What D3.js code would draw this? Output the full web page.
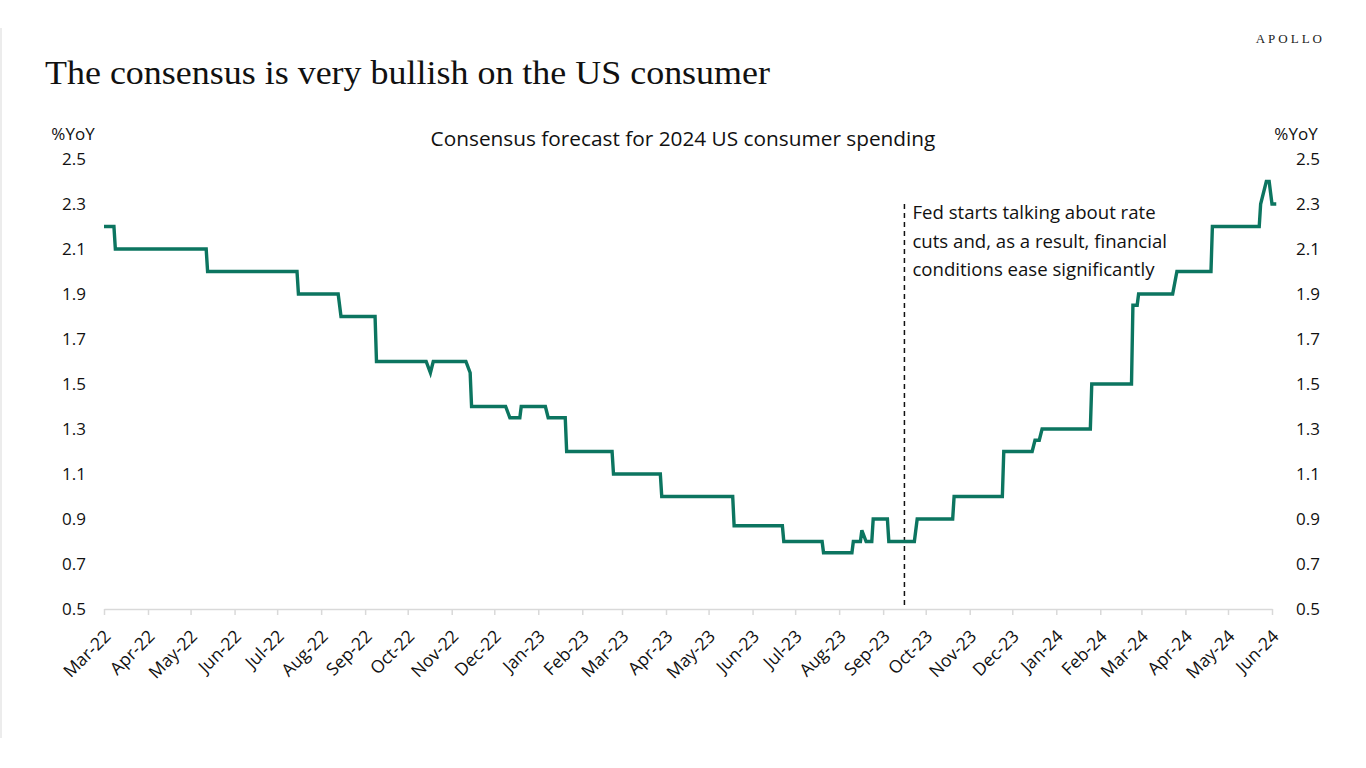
<!DOCTYPE html>
<html>
<head>
<meta charset="utf-8">
<script src="https://cdn.jsdelivr.net/npm/d3@7/dist/d3.min.js"></script>
<style>
  html, body { margin: 0; padding: 0; background: #fff; }
  svg { display: block; }
</style>
</head>
<body>
<svg id="chart" width="1366" height="768"></svg>
<script>
// ---- Data ----
const dates = [
  "2022-03-01","2022-03-08","2022-03-09","2022-05-12","2022-05-13","2022-07-15","2022-07-16",
  "2022-08-13","2022-08-15","2022-09-08","2022-09-09","2022-10-14","2022-10-17","2022-10-19",
  "2022-11-11","2022-11-14","2022-11-15","2022-12-09","2022-12-12","2022-12-19","2022-12-20",
  "2023-01-06","2023-01-08","2023-01-20","2023-01-21","2023-02-22","2023-02-23","2023-03-28",
  "2023-03-29","2023-05-18","2023-05-19","2023-06-22","2023-06-23","2023-07-20","2023-07-21",
  "2023-08-10","2023-08-11","2023-08-16","2023-08-17","2023-08-20","2023-08-24","2023-08-25",
  "2023-09-04","2023-09-05","2023-09-23","2023-09-25","2023-10-20","2023-10-21","2023-11-24",
  "2023-11-25","2023-12-15","2023-12-17","2023-12-20","2023-12-22","2024-01-25","2024-01-26",
  "2024-02-23","2024-02-24","2024-02-27","2024-02-28","2024-03-23","2024-03-26","2024-04-19",
  "2024-04-20","2024-05-23","2024-05-24","2024-05-28","2024-05-30","2024-06-01","2024-06-04"
];
const values = [
  2.2,2.2,2.1,2.1,2.0,2.0,1.9,
  1.9,1.8,1.8,1.6,1.6,1.55,1.6,
  1.6,1.55,1.4,1.4,1.35,1.35,1.4,
  1.4,1.35,1.35,1.2,1.2,1.1,1.1,
  1.0,1.0,0.87,0.87,0.8,0.8,0.75,
  0.75,0.8,0.8,0.85,0.8,0.8,0.9,
  0.9,0.8,0.8,0.9,0.9,1.0,1.0,
  1.2,1.2,1.25,1.25,1.3,1.3,1.5,
  1.5,1.85,1.85,1.9,1.9,2.0,2.0,
  2.2,2.2,2.3,2.4,2.4,2.3,2.3
];
const yTicks = [0.5, 0.7, 0.9, 1.1, 1.3, 1.5, 1.7, 1.9, 2.1, 2.3, 2.5];
const monthTicks = [
  "2022-03-01","2022-04-01","2022-05-01","2022-06-01","2022-07-01","2022-08-01","2022-09-01",
  "2022-10-01","2022-11-01","2022-12-01","2023-01-01","2023-02-01","2023-03-01","2023-04-01",
  "2023-05-01","2023-06-01","2023-07-01","2023-08-01","2023-09-01","2023-10-01","2023-11-01",
  "2023-12-01","2024-01-01","2024-02-01","2024-03-01","2024-04-01","2024-05-01","2024-06-01"
];
const annotationDate = "2023-09-16";
const annotationLines = [
  "Fed starts talking about rate",
  "cuts and, as a result, financial",
  "conditions ease significantly"
];
const title = "The consensus is very bullish on the US consumer";
const subtitle = "Consensus forecast for 2024 US consumer spending";
const unitLabel = "%YoY";
const brand = "APOLLO";

// ---- Drawing ----
const parse = d3.utcParse("%Y-%m-%d");
const fmt = d3.utcFormat("%b-%y");
const data = dates.map((d, i) => ({ date: parse(d), value: values[i] }));

const svg = d3.select("#chart");
const M = { left: 104, right: 1272, top: 159, bottom: 609 };
const sansFont = "'Open Sans', 'Noto Sans', sans-serif";
const serifFont = "'Liberation Serif', 'DejaVu Serif', serif";

const x = d3.scaleUtc()
  .domain([parse("2022-03-01"), parse("2024-06-01")])
  .range([M.left, M.right]);
const y = d3.scaleLinear().domain([0.5, 2.5]).range([M.bottom, M.top]);

// faint page border on left
svg.append("line")
  .attr("x1", 1).attr("x2", 1).attr("y1", 28).attr("y2", 738)
  .attr("stroke", "#ececec").attr("stroke-width", 2);

// Brand
svg.append("text")
  .attr("x", 1325).attr("y", 43)
  .attr("text-anchor", "end")
  .attr("font-family", serifFont)
  .attr("font-size", 13)
  .attr("letter-spacing", 3)
  .attr("fill", "#222")
  .text(brand);

// Title
svg.append("text")
  .attr("x", 45).attr("y", 84)
  .attr("font-family", serifFont)
  .attr("font-size", 33)
  .attr("textLength", 725)
  .attr("lengthAdjust", "spacingAndGlyphs")
  .attr("fill", "#111")
  .text(title);

// Subtitle
svg.append("text")
  .attr("x", 683).attr("y", 146)
  .attr("text-anchor", "middle")
  .attr("font-family", sansFont)
  .attr("font-size", 20.8)
  .attr("fill", "#111")
  .text(subtitle);

// Unit labels
svg.append("text").attr("x", 73).attr("y", 140).attr("text-anchor", "middle")
  .attr("font-family", sansFont).attr("font-size", 17).attr("fill", "#111").text(unitLabel);
svg.append("text").attr("x", 1296).attr("y", 140).attr("text-anchor", "middle")
  .attr("font-family", sansFont).attr("font-size", 17).attr("fill", "#111").text(unitLabel);

// Y axes (labels only)
const yLeft = svg.append("g").attr("transform", `translate(${M.left - 18},0)`)
  .call(d3.axisLeft(y).tickValues(yTicks).tickFormat(d3.format(".1f")).tickSize(0));
yLeft.select(".domain").remove();
yLeft.selectAll("text").attr("font-family", sansFont).attr("font-size", 17)
  .attr("fill", "#111").attr("x", 0);

const yRight = svg.append("g").attr("transform", `translate(${M.right + 24},0)`)
  .call(d3.axisRight(y).tickValues(yTicks).tickFormat(d3.format(".1f")).tickSize(0));
yRight.select(".domain").remove();
yRight.selectAll("text").attr("font-family", sansFont).attr("font-size", 17)
  .attr("fill", "#111").attr("x", 0);

// X axis
const xAxis = svg.append("g").attr("transform", `translate(0,${M.bottom})`)
  .call(d3.axisBottom(x).tickValues(monthTicks.map(parse)).tickFormat(fmt).tickSize(6).tickSizeOuter(0));
xAxis.select(".domain").attr("stroke", "#d9d9d9").attr("stroke-width", 1.5);
xAxis.selectAll(".tick line").attr("stroke", "#d9d9d9").attr("stroke-width", 1.5);
xAxis.selectAll("text")
  .attr("font-family", sansFont).attr("font-size", 17.5).attr("fill", "#111")
  .attr("text-anchor", "end")
  .attr("dy", "0.35em")
  .attr("transform", "translate(3,24) rotate(-45)")
  .attr("x", 0).attr("y", 0);

// Annotation dashed line
const ax = x(parse(annotationDate));
svg.append("line")
  .attr("x1", ax).attr("x2", ax).attr("y1", 204).attr("y2", M.bottom)
  .attr("stroke", "#111").attr("stroke-width", 1.5)
  .attr("stroke-dasharray", "5,4");

const ann = svg.append("text")
  .attr("font-family", sansFont).attr("font-size", 18.6).attr("fill", "#111");
annotationLines.forEach((t, i) => {
  ann.append("tspan").attr("x", ax + 8).attr("y", 219 + i * 28.5).text(t);
});

// Series line
svg.append("path")
  .datum(data)
  .attr("fill", "none")
  .attr("stroke", "#0c7560")
  .attr("stroke-width", 3.4)
  .attr("stroke-linejoin", "miter")
  .attr("d", d3.line().x(d => x(d.date)).y(d => y(d.value)));
</script>
</body>
</html>
